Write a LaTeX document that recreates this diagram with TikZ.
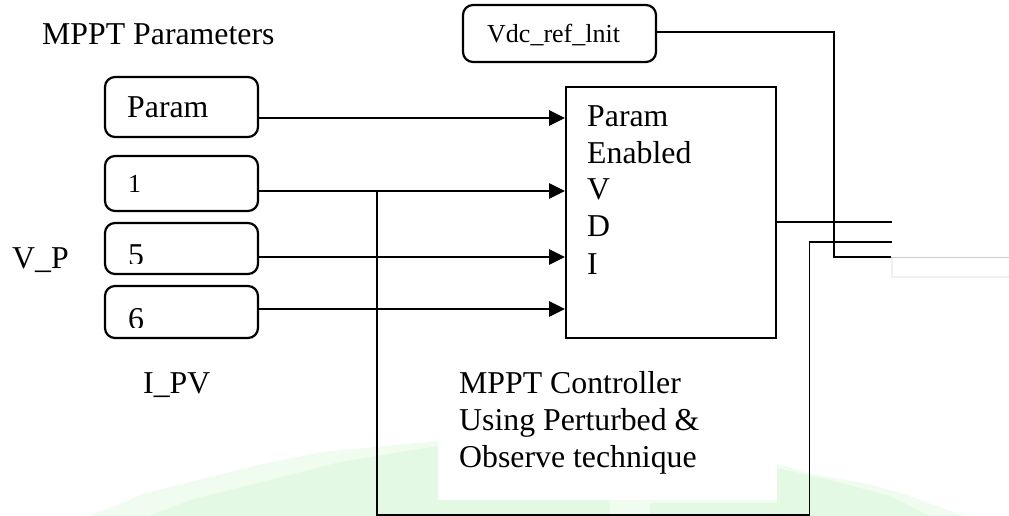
\documentclass[tikz,border=0pt]{standalone}
\usepackage{fontspec}
\setmainfont{Liberation Serif}
\usetikzlibrary{arrows.meta}
\definecolor{wm}{RGB}{228,249,228}
\definecolor{wmlight}{RGB}{240,252,240}
\begin{document}
\begin{tikzpicture}[x=1pt,y=-1pt,
  rbox/.style={draw,line width=2.2pt,rounded corners=10pt,inner sep=0pt},
  mbox/.style={draw,line width=2pt,inner sep=0pt},
  txt/.style={anchor=base west,inner sep=0pt,font=\fontsize{31.8}{36}\selectfont},
  stxt/.style={anchor=base west,inner sep=0pt,font=\fontsize{26}{30}\selectfont},
  arr/.style={line width=2.7pt,-{Triangle[length=16pt,width=15pt]}},
  wire/.style={line width=1.7pt}]
\useasboundingbox (0,0) rectangle (1009,516);
% faint watermark
\fill[wmlight] (88,516) -- (120,504) -- (142,494) -- (182,484) -- (262,464) -- (322,452) -- (438,441)
  -- (438,500) -- (777,500) -- (777,464) -- (812,474) -- (868,484) -- (904,494) -- (934,505) -- (965,516) -- cycle;
\fill[wm] (150,516) -- (190,500) -- (270,480) -- (340,462) -- (438,446)
  -- (438,500) -- (610,500) -- (610,516) -- cycle;
\fill[wm] (650,516) -- (650,503) -- (777,503) -- (777,468) -- (830,480) -- (890,496) -- (930,516) -- cycle;

% labels
\node[txt] (title) at (42,45) {MPPT Parameters};
\node[txt] (vp) at (12,268) {V\_P};
\node[txt] (ipv) at (143,393) {I\_PV};

% source blocks
\node[rbox,minimum width=153,minimum height=60] (param) at (181.5,107) {};
\node[txt] (paramt) at (127,118) {Param};
\node[rbox,minimum width=153,minimum height=55] (b1) at (181.5,183.5) {};
\node[stxt] (b1t) at (128,192) {1};
\node[rbox,minimum width=153,minimum height=51] (b5) at (181.5,248.5) {};
\begin{scope}
  \clip (106,224) rectangle (257,263);
  \node[txt] (b5t) at (128,265) {5};
\end{scope}
\node[rbox,minimum width=153,minimum height=52] (b6) at (181.5,312) {};
\begin{scope}
  \clip (106,287) rectangle (257,327);
  \node[txt] (b6t) at (128,329) {6};
\end{scope}
\node[rbox,minimum width=193,minimum height=57] (vdc) at (559.5,33.5) {};
\node[stxt] (vdct) at (487,43) {Vdc\_ref\_lnit};

% controller block
\node[mbox,minimum width=210,minimum height=251] (main) at (671,212.5) {};
\node[txt] (in1) at (587,127) {Param};
\node[txt] (in2) at (587,163) {Enabled};
\node[txt] (in3) at (587,199) {V};
\node[txt] (in4) at (587,236) {D};
\node[txt] (in5) at (587,274) {I};
\node[txt] (c1) at (459,393) {MPPT Controller};
\node[txt] (c2) at (459,430) {Using Perturbed \&};
\node[txt] (c3) at (459,467) {Observe technique};

% connectors
\draw[arr] (param.east |- 0,118) -- (main.west |- 0,118);
\draw[arr] (b1.east |- 0,191) -- (main.west |- 0,191);
\draw[arr] (b5.east |- 0,257) -- (main.west |- 0,257);
\draw[arr] (b6.east |- 0,309) -- (main.west |- 0,309);

\coordinate (j) at (377,191);
\coordinate (fb) at (809.5,515);
\coordinate (o1) at (892,222);
\coordinate (o2) at (892,242);
\coordinate (vd) at (834,257);
\coordinate (o3) at (891,257);

\draw[wire] (j) |- (fb) |- (o2);
\draw[wire] (main.east |- 0,222) -- (o1);
\draw[wire] (vdc.east |- 0,32) -| (vd) -- (o3);

% faint frame at right
\draw[gray!40,line width=1pt] (o3) -- (1009,257);
\draw[gray!12,line width=1.5pt] (892,258) -- (892,277) -- (1009,277);
\end{tikzpicture}
\end{document}
